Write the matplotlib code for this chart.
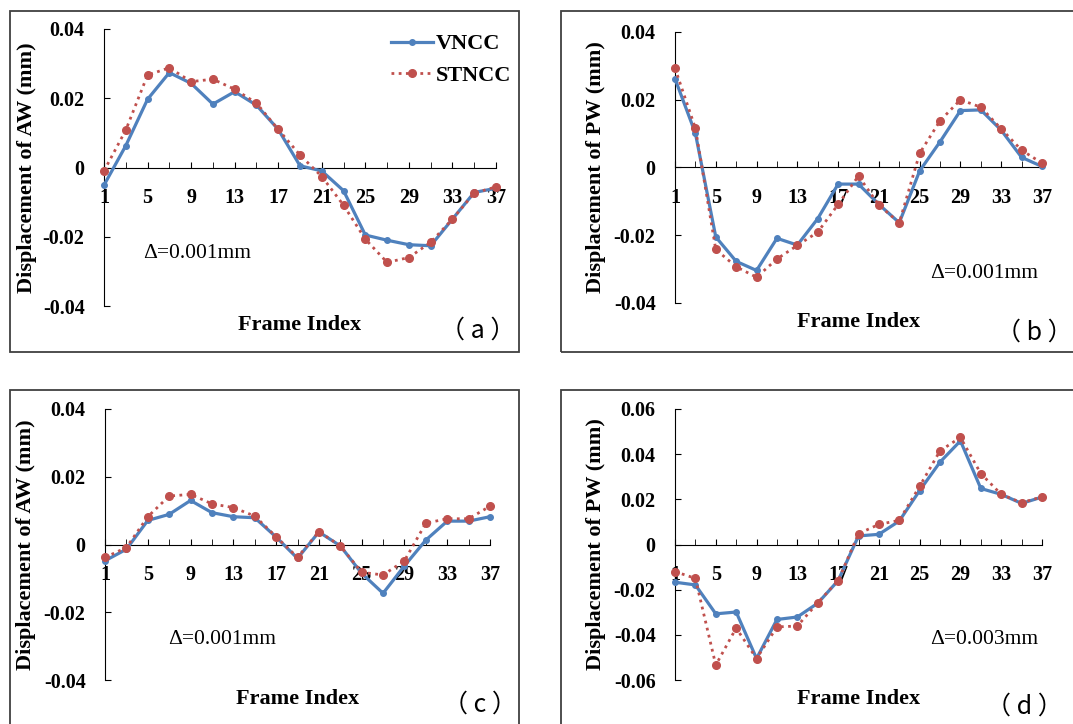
import matplotlib
matplotlib.use('Agg')
import matplotlib.pyplot as plt
from matplotlib.patches import Rectangle

# frame indices (every other frame)
frames = list(range(1, 38, 2))
tick_labels = ['1', '5', '9', '13', '17', '21', '25', '29', '33', '37']

# panel (a) - AW
vncc_a = [-0.0051, 0.0063, 0.0197, 0.0274, 0.0243, 0.0183, 0.0219, 0.0180, 0.0110, 0.0005,
          -0.0010, -0.0067, -0.0195, -0.0210, -0.0223, -0.0226, -0.0149, -0.0072, -0.0060]
stncc_a = [-0.0010, 0.0108, 0.0267, 0.0288, 0.0248, 0.0255, 0.0226, 0.0186, 0.0110, 0.0036,
           -0.0026, -0.0109, -0.0207, -0.0274, -0.0260, -0.0216, -0.0149, -0.0074, -0.0056]

# panel (b) - PW
vncc_b = [0.0262, 0.0101, -0.0205, -0.0277, -0.0304, -0.0209, -0.0229, -0.0151, -0.0049, -0.0049,
          -0.0109, -0.0163, -0.0010, 0.0076, 0.0168, 0.0170, 0.0110, 0.0030, 0.0003]
stncc_b = [0.0293, 0.0116, -0.0242, -0.0293, -0.0324, -0.0270, -0.0230, -0.0191, -0.0109, -0.0025,
           -0.0111, -0.0163, 0.0042, 0.0138, 0.0200, 0.0178, 0.0114, 0.0051, 0.0013]

# panel (c) - AW
vncc_c = [-0.0048, -0.0014, 0.0071, 0.0089, 0.0130, 0.0094, 0.0082, 0.0079, 0.0022, -0.0041,
          0.0037, -0.0004, -0.0085, -0.0144, -0.0063, 0.0013, 0.0069, 0.0069, 0.0082]
stncc_c = [-0.0038, -0.0009, 0.0082, 0.0143, 0.0148, 0.0120, 0.0109, 0.0084, 0.0023, -0.0038,
           0.0038, -0.0004, -0.0082, -0.0090, -0.0048, 0.0063, 0.0076, 0.0076, 0.0113]

# panel (d) - PW
vncc_d = [-0.0167, -0.0179, -0.0307, -0.0299, -0.0505, -0.0332, -0.0321, -0.0260, -0.0160, 0.0038,
          0.0045, 0.0104, 0.0239, 0.0365, 0.0459, 0.0248, 0.0222, 0.0182, 0.0210]
stncc_d = [-0.0120, -0.0150, -0.0534, -0.0370, -0.0505, -0.0365, -0.0361, -0.0258, -0.0160, 0.0048,
           0.0089, 0.0107, 0.0258, 0.0415, 0.0474, 0.0314, 0.0222, 0.0185, 0.0211]

W, H = 1073, 724
SERIF = 'Liberation Serif'
BLUE = '#4F81BD'
RED = '#C0504D'

fig = plt.figure(figsize=(W / 100, H / 100), dpi=100)


def fx(x):
    return x / W


def fy(y):
    return 1 - y / H


def draw_panel(box, axpos, vncc, stncc, ylim, yticks, ylabel, ylabel_x, delta, delta_xy, tag, tag_xy,
               tag_ha='center', legend=False):
    # outer frame around the panel
    bx0, by0, bx1, by1 = box
    fig.patches.append(Rectangle((fx(bx0), fy(by1)), fx(bx1 - bx0), (by1 - by0) / H,
                                 transform=fig.transFigure, fill=False,
                                 edgecolor='#404040', linewidth=1.3))
    x0, y0, x1, y1 = axpos
    ax = fig.add_axes([fx(x0), fy(y1), fx(x1 - x0), (y1 - y0) / H])
    ax.plot(frames, vncc, color=BLUE, linewidth=2.3, marker='o', markersize=4,
            label='VNCC', clip_on=False, zorder=3)
    ax.plot(frames, stncc, color=RED, linewidth=2, linestyle=(0, (1, 1.6)), marker='o',
            markersize=5.5, label='STNCC', clip_on=False, zorder=4)
    ax.set_xlim(1, 37)
    ax.set_ylim(*ylim)
    ax.spines['top'].set_visible(False)
    ax.spines['right'].set_visible(False)
    ax.spines['bottom'].set_position(('data', 0))
    ax.set_xticks(frames[::2])
    ax.set_xticklabels(tick_labels)
    ax.set_xticks(frames[1::2], minor=True)
    ax.tick_params(axis='x', which='both', direction='in', length=4, pad=15,
                   labelsize=14.5)
    ax.set_yticks(yticks)
    ax.set_yticklabels(['0' if v == 0 else f'{v:.2f}' for v in yticks])
    ax.tick_params(axis='y', direction='in', length=4, pad=14, labelsize=14.5)
    for lab in ax.get_xticklabels() + ax.get_yticklabels():
        lab.set_fontfamily(SERIF)
        lab.set_fontweight('bold')
    ax.set_ylabel(ylabel, fontfamily=SERIF, fontweight='bold', fontsize=16)
    ax.yaxis.set_label_coords((ylabel_x - x0) / (x1 - x0), 0.5)
    fig.text(fx((x0 + x1) / 2), fy(y1 + 19), 'Frame Index', ha='center', va='center',
             fontfamily=SERIF, fontweight='bold', fontsize=16)
    fig.text(fx(delta_xy[0]), fy(delta_xy[1]), delta, ha='left', va='center',
             fontfamily=SERIF, fontsize=15.5)
    fig.text(fx(tag_xy[0]), fy(tag_xy[1]), tag, ha=tag_ha, va='center',
             fontfamily=['Noto Sans CJK SC', 'DejaVu Sans'], fontsize=18)
    if legend:
        ax.legend(loc='upper right', bbox_to_anchor=(1.09, 1.055), frameon=False,
                  handlelength=1.85, handletextpad=0.15, labelspacing=0.5,
                  prop={'family': SERIF, 'weight': 'bold', 'size': 16})
    return ax


aw_ticks = [0.04, 0.02, 0, -0.02, -0.04]
draw_panel((10, 11, 519, 352), (104, 29, 496, 306), vncc_a, stncc_a, (-0.04, 0.04), aw_ticks,
           'Displacement of AW (mm)', 37, '\u0394=0.001mm', (143, 253), '\uff08 a \uff09', (478, 331),
           legend=True)
draw_panel((561, 11, 1090, 352), (675, 32, 1042, 303), vncc_b, stncc_b, (-0.04, 0.04), aw_ticks,
           'Displacement of PW (mm)', 606, '\u0394=0.001mm', (930, 273), '\uff08 b \uff09', (1073, 333),
           tag_ha='right')
draw_panel((10, 390, 519, 740), (105, 409, 490, 680), vncc_c, stncc_c, (-0.04, 0.04), aw_ticks,
           'Displacement of AW (mm)', 36, '\u0394=0.001mm', (168, 640), '\uff08 c \uff09', (480, 705))
draw_panel((561, 390, 1090, 740), (675, 409, 1042, 680), vncc_d, stncc_d, (-0.06, 0.06),
           [0.06, 0.04, 0.02, 0, -0.02, -0.04, -0.06],
           'Displacement of PW (mm)', 606, '\u0394=0.003mm', (930, 640), '\uff08 d \uff09', (1024, 707))

fig.savefig('out.png', dpi=100)
plt.close(fig)
